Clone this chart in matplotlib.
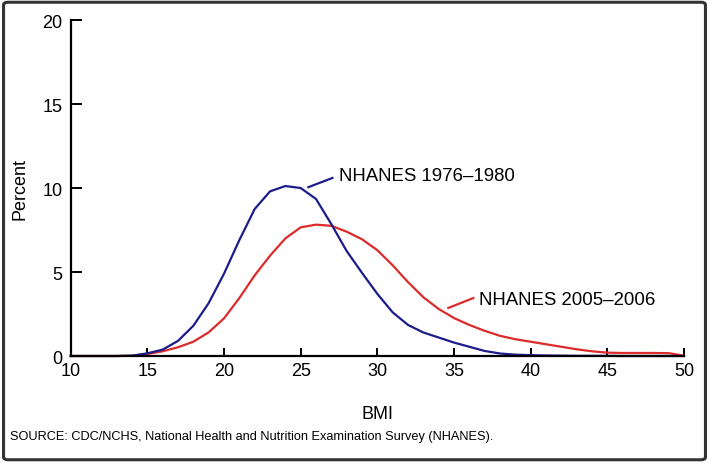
import matplotlib.pyplot as plt
from matplotlib.patches import FancyBboxPatch

plt.rcParams['font.family'] = ['Liberation Sans', 'DejaVu Sans']

# BMI values
bmi = list(range(10, 51))

# percent of adults, NHANES 1976-1980
pct_1976 = [0, 0, 0, 0, 0.02, 0.16, 0.38, 0.9, 1.8, 3.15, 4.9, 6.9, 8.75, 9.8, 10.12, 10.0, 9.35,
            7.85, 6.25, 4.95, 3.7, 2.6, 1.85, 1.4, 1.1, 0.8, 0.55, 0.3, 0.15, 0.08, 0.05, 0.03,
            0.02, 0.01, 0.01, 0.01, 0, 0, 0, 0, 0]

# percent of adults, NHANES 2005-2006
pct_2005 = [0, 0, 0, 0, 0.02, 0.12, 0.28, 0.52, 0.85, 1.41, 2.24, 3.45, 4.8, 5.97, 7.0, 7.66, 7.82,
            7.75, 7.4, 6.95, 6.3, 5.4, 4.4, 3.5, 2.8, 2.26, 1.85, 1.5, 1.2, 1.0, 0.85, 0.7,
            0.55, 0.4, 0.28, 0.2, 0.18, 0.18, 0.18, 0.17, 0.02]

blue = '#1c1c8c'
red = '#dc2b2b'

fig = plt.figure(figsize=(7.09, 4.64), dpi=100)
ax = fig.add_axes([0.0997, 0.2306, 0.865, 0.724])

ax.plot(bmi, pct_2005, color=red, lw=1.6, clip_on=False)
ax.plot(bmi, pct_1976, color=blue, lw=1.6, clip_on=False)

ax.set_xlim(10, 50)
ax.set_ylim(0, 20)
ax.set_xticks(range(10, 51, 5))
ax.set_yticks(range(0, 21, 5))
for s in ['top', 'right']:
    ax.spines[s].set_visible(False)
for s in ['left', 'bottom']:
    ax.spines[s].set_linewidth(1.6)
ax.tick_params(direction='in', length=6, width=1.4, labelsize=13, pad=4)
ax.tick_params(axis='y', length=8, pad=6)
# no tick mark at the origin
ax.xaxis.get_major_ticks()[0].tick1line.set_visible(False)
ax.yaxis.get_major_ticks()[0].tick1line.set_visible(False)

ax.set_xlabel('BMI', fontsize=13, labelpad=19)
ax.set_ylabel('Percent', fontsize=13, labelpad=10)

# labels with short leader lines
ax.plot([25.5, 27.07], [10.05, 10.6], color=blue, lw=1.6)
ax.text(27.5, 10.75, 'NHANES 1976\u20131980', fontsize=13.4, va='center', ha='left')
ax.plot([34.63, 36.26], [2.86, 3.45], color=red, lw=1.6)
ax.text(36.65, 3.35, 'NHANES 2005\u20132006', fontsize=13.4, va='center', ha='left')

fig.text(0.014, 0.058, 'SOURCE: CDC/NCHS, National Health and Nutrition Examination Survey (NHANES).',
         fontsize=9.2, va='center', ha='left')

# frame around the whole figure
frame = FancyBboxPatch((0.005, 0.007), 0.99, 0.986, boxstyle='round,pad=0,rounding_size=0.006',
                       transform=fig.transFigure, fill=False, edgecolor='#333333', lw=2.2)
fig.patches.append(frame)

plt.savefig('out.png', dpi=100)
